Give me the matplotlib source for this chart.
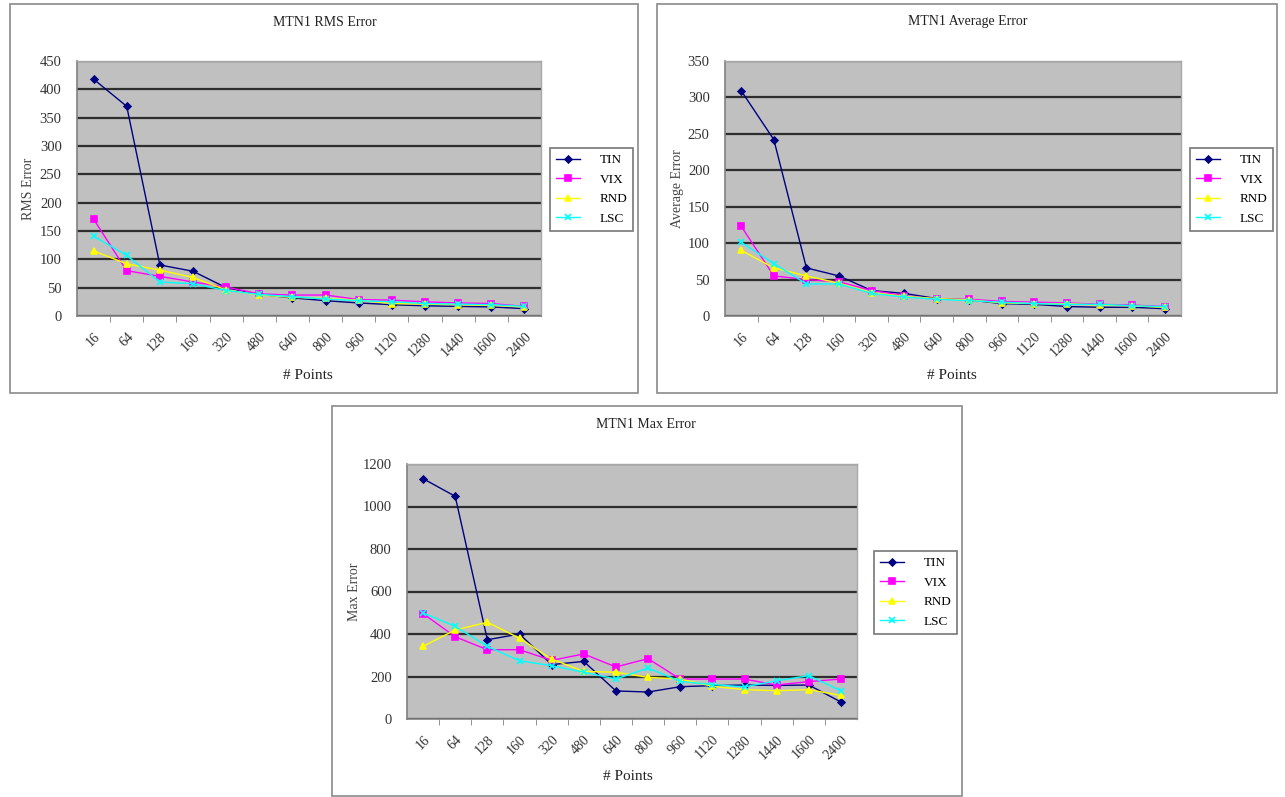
import matplotlib.pyplot as plt
from matplotlib.patches import Rectangle
import numpy as np

plt.rcParams['font.family'] = ['Liberation Serif', 'DejaVu Serif']

# point counts on the category axis
points = ['16', '64', '128', '160', '320', '480', '640', '800', '960',
          '1120', '1280', '1440', '1600', '2400']

# RMS error per method
rms_tin = [418, 370, 90, 79, 50, 38, 32, 27, 23, 20, 18, 17, 16, 13]
rms_vix = [171, 80, 70, 60, 51, 39, 37, 37, 29, 28, 25, 23, 22, 17]
rms_rnd = [115, 92, 81, 68, 46, 37, 33, 31, 28, 22, 21, 20, 19, 16]
rms_lsc = [141, 107, 60, 57, 45, 38, 34, 30, 27, 25, 22, 21, 20, 17]

# average error per method
avg_tin = [309, 242, 66, 55, 35, 31, 24, 22, 17, 16, 13, 12, 12, 10]
avg_vix = [123, 55, 50, 47, 35, 28, 23, 23, 20, 19, 18, 16, 15, 13]
avg_rnd = [90, 66, 55, 45, 32, 27, 24, 22, 18, 17, 17, 15, 14, 12]
avg_lsc = [101, 72, 44, 44, 31, 26, 23, 21, 19, 17, 16, 16, 14, 13]

# max error per method
max_tin = [1131, 1048, 373, 400, 256, 271, 132, 127, 152, 157, 160, 158, 160, 80]
max_vix = [496, 387, 326, 326, 276, 306, 245, 284, 188, 188, 188, 160, 176, 188]
max_rnd = [342, 419, 455, 380, 282, 224, 220, 196, 188, 154, 138, 133, 138, 111]
max_lsc = [499, 436, 342, 274, 251, 220, 188, 240, 177, 162, 151, 180, 204, 133]

methods = ['TIN', 'VIX', 'RND', 'LSC']
styles = {
    'TIN': dict(color='#000080', marker='D', ms=3.5),
    'VIX': dict(color='#FF00FF', marker='s', ms=5),
    'RND': dict(color='#FFFF00', marker='^', ms=5),
    'LSC': dict(color='#00FFFF', marker='x', ms=4),
}

W, H = 1285, 797
fig = plt.figure(figsize=(W / 100, H / 100), dpi=100)
fig.patch.set_facecolor('white')


def fx(px):
    return px / W


def fy(py):
    return 1 - py / H


def box(x0, y0, x1, y1):
    fig.patches.append(Rectangle((fx(x0), fy(y1)), fx(x1 - x0), (y1 - y0) / H,
                                 transform=fig.transFigure, fill=False,
                                 edgecolor='#8a8a8a', lw=1.2, zorder=0))


def chart(rect, series, ymax, ystep, title, ylabel, title_xy, xlab_xy,
          ylab_x, legend_xy):
    l, t, r, b = rect
    ax = fig.add_axes([fx(l), fy(b), fx(r - l), (b - t) / H])
    ax.set_facecolor('#C0C0C0')
    x = np.arange(len(points))
    for name, vals in zip(methods, series):
        st = styles[name]
        ax.plot(x, vals, color=st['color'], lw=1, marker=st['marker'],
                ms=st['ms'], mfc=st['color'], mec=st['color'], mew=1.2,
                label=name, zorder=3)
    ax.set_xlim(-0.5, len(points) - 0.5)
    ax.set_ylim(0, ymax)
    ax.set_yticks(np.arange(0, ymax + 1, ystep))
    ax.yaxis.grid(True, color='#2e2e2e', lw=1.6)
    ax.set_axisbelow(True)
    ax.set_xticks(x)
    ax.set_xticklabels(points, rotation=45, ha='right', rotation_mode='anchor',
                       fontsize=10, color='#333333')
    ax.set_xticks(np.arange(0.5, len(points) - 1, 1), minor=True)
    ax.tick_params(axis='x', which='major', length=0, pad=10)
    ax.tick_params(axis='x', which='minor', length=4, color='#808080')
    ax.tick_params(axis='y', length=0, labelsize=10.5,
                   labelcolor='#333333', pad=11)
    for s in ('left', 'bottom'):
        ax.spines[s].set_color('#808080')
        ax.spines[s].set_linewidth(1.2)
    for s in ('top', 'right'):
        ax.spines[s].set_color('#a8a8a8')
        ax.spines[s].set_linewidth(1)
    # label placed by its centre line
    ax.set_ylabel(ylabel, fontsize=10, color='#444444', va='center')
    ax.yaxis.set_label_coords((ylab_x - l) / (r - l), 0.5)
    fig.text(fx(title_xy[0]), fy(title_xy[1]), title, ha='center', va='center',
             fontsize=10, color='#222222')
    fig.text(fx(xlab_xy[0]), fy(xlab_xy[1]), '# Points', ha='center',
             va='center', fontsize=11, color='#222222')
    leg = ax.legend(loc='upper left', bbox_to_anchor=(fx(legend_xy[0]), fy(legend_xy[1])),
                    bbox_transform=fig.transFigure, frameon=True, fancybox=False,
                    edgecolor='#555555', fontsize=9.5, handlelength=1.8,
                    handletextpad=1.5, borderpad=0.45, labelspacing=0.55,
                    borderaxespad=0)
    leg.get_frame().set_linewidth(1.2)
    return ax


box(10, 4, 638, 393)
box(657, 4, 1277, 393)
box(332, 406, 962, 796)

chart((77, 61, 541, 316), [rms_tin, rms_vix, rms_rnd, rms_lsc], 450, 50,
      'MTN1 RMS Error', 'RMS Error', (325, 22), (308, 375), 29, (550, 148))
chart((725, 61, 1181, 316), [avg_tin, avg_vix, avg_rnd, avg_lsc], 350, 50,
      'MTN1 Average Error', 'Average Error', (968, 22), (952, 375), 677, (1190, 148))
chart((407, 464, 857, 719), [max_tin, max_vix, max_rnd, max_lsc], 1200, 200,
      'MTN1 Max Error', 'Max Error', (646, 425), (628, 777), 354, (874, 551))

fig.savefig('out.png', dpi=100)
